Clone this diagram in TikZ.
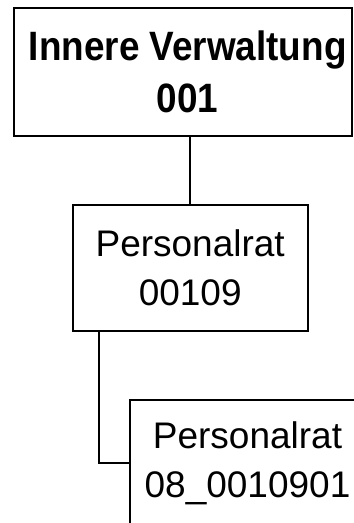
\documentclass[tikz,border=0pt]{standalone}
\usepackage{fontspec}
\setmainfont{Liberation Sans}
\newfontfamily\condfont[FakeStretch=0.9]{Liberation Sans}
\begin{document}
\begin{tikzpicture}[x=1pt,y=-1pt,
  box/.style={draw, line width=2pt, inner sep=0pt, align=center, anchor=north west},
  link/.style={line width=1.8pt}]
\useasboundingbox (0,0) rectangle (354,523);
\clip (0,0) rectangle (354,523);
\node[box, minimum width=338pt, minimum height=128.3pt,
      font=\fontsize{41}{51.7}\condfont\bfseries] (b1) at (12.7,6.7)
      {\hspace*{10pt}Innere Verwaltung\\\hspace*{10pt}001};
\node[box, minimum width=235pt, minimum height=126pt,
      font=\fontsize{37}{49}\selectfont] (b2) at (71.7,204) {Personalrat\\00109};
\node[box, minimum width=235pt, minimum height=126pt,
      font=\fontsize{37}{49}\selectfont] (b3) at (129,399) {Personalrat\\08\_0010901};
\coordinate (c) at (99.3,330);
\draw[link] (b2.north) -- (b2.north |- b1.south);
\draw[link] (c) |- (b3.west);
\end{tikzpicture}
\end{document}
